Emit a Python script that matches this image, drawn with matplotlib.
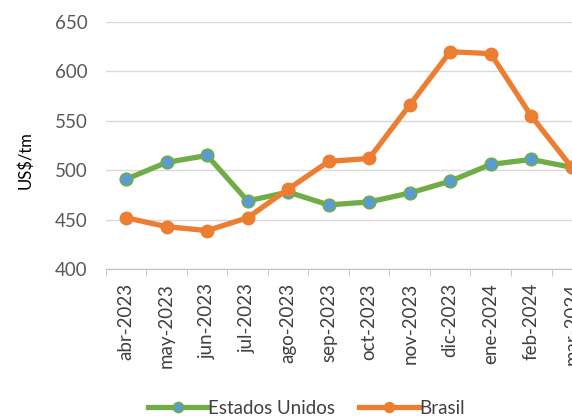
import matplotlib.pyplot as plt

months = ["abr-2023", "may-2023", "jun-2023", "jul-2023", "ago-2023", "sep-2023",
          "oct-2023", "nov-2023", "dic-2023", "ene-2024", "feb-2024", "mar-2024"]
estados_unidos = [491, 508, 515, 469, 478, 465, 468, 477, 489, 506, 511, 503]
brasil = [452, 443, 439, 452, 481, 509, 512, 566, 620, 618, 555, 503]

plt.rcParams['font.family'] = ['Lato', 'DejaVu Sans']

fig = plt.figure(figsize=(5.72, 4.16), dpi=100)
ax = fig.add_axes([0.185, 0.353, 0.85, 0.594])

x = range(len(months))
ax.plot(x, estados_unidos, color="#70AD47", lw=3.8, marker="o", ms=9,
        mfc="#5B9BD5", mec="#70AD47", mew=1.2, label="Estados Unidos", zorder=3)
ax.plot(x, brasil, color="#ED7D31", lw=3.8, marker="o", ms=9,
        mfc="#ED7D31", mec="#ED7D31", label="Brasil", zorder=3)

ax.set_ylim(400, 650)
ax.set_yticks(range(400, 651, 50))
ax.set_xlim(-0.5, len(months) - 0.5)
ax.set_xticks(list(x))
ax.set_xticklabels(months, rotation=90, fontsize=13.5, color="#404040")
ax.set_xticks([i - 0.5 for i in range(len(months) + 1)], minor=True)
ax.tick_params(axis="x", which="major", length=0, pad=10)
ax.tick_params(axis="x", which="minor", length=5, color="#BFBFBF")
ax.tick_params(axis="y", length=0, labelsize=13.5, labelcolor="#595959", pad=13)
ax.grid(axis="y", color="#D9D9D9", lw=1)
ax.set_axisbelow(True)
for side in ["top", "right", "left"]:
    ax.spines[side].set_visible(False)
ax.spines["bottom"].set_color("#BFBFBF")
ax.set_ylabel("US$/tm", fontsize=12, color="black", va="center")
ax.yaxis.set_label_coords(-0.165, 0.44)

leg = fig.legend(loc="center", bbox_to_anchor=(0.535, 0.018), ncol=2, frameon=False,
                 fontsize=13.5, handlelength=3.2, columnspacing=1.3, handletextpad=0.0,
                 markerscale=0.8)
for t in leg.get_texts():
    t.set_color("#404040")

fig.savefig("out.png", dpi=100)
